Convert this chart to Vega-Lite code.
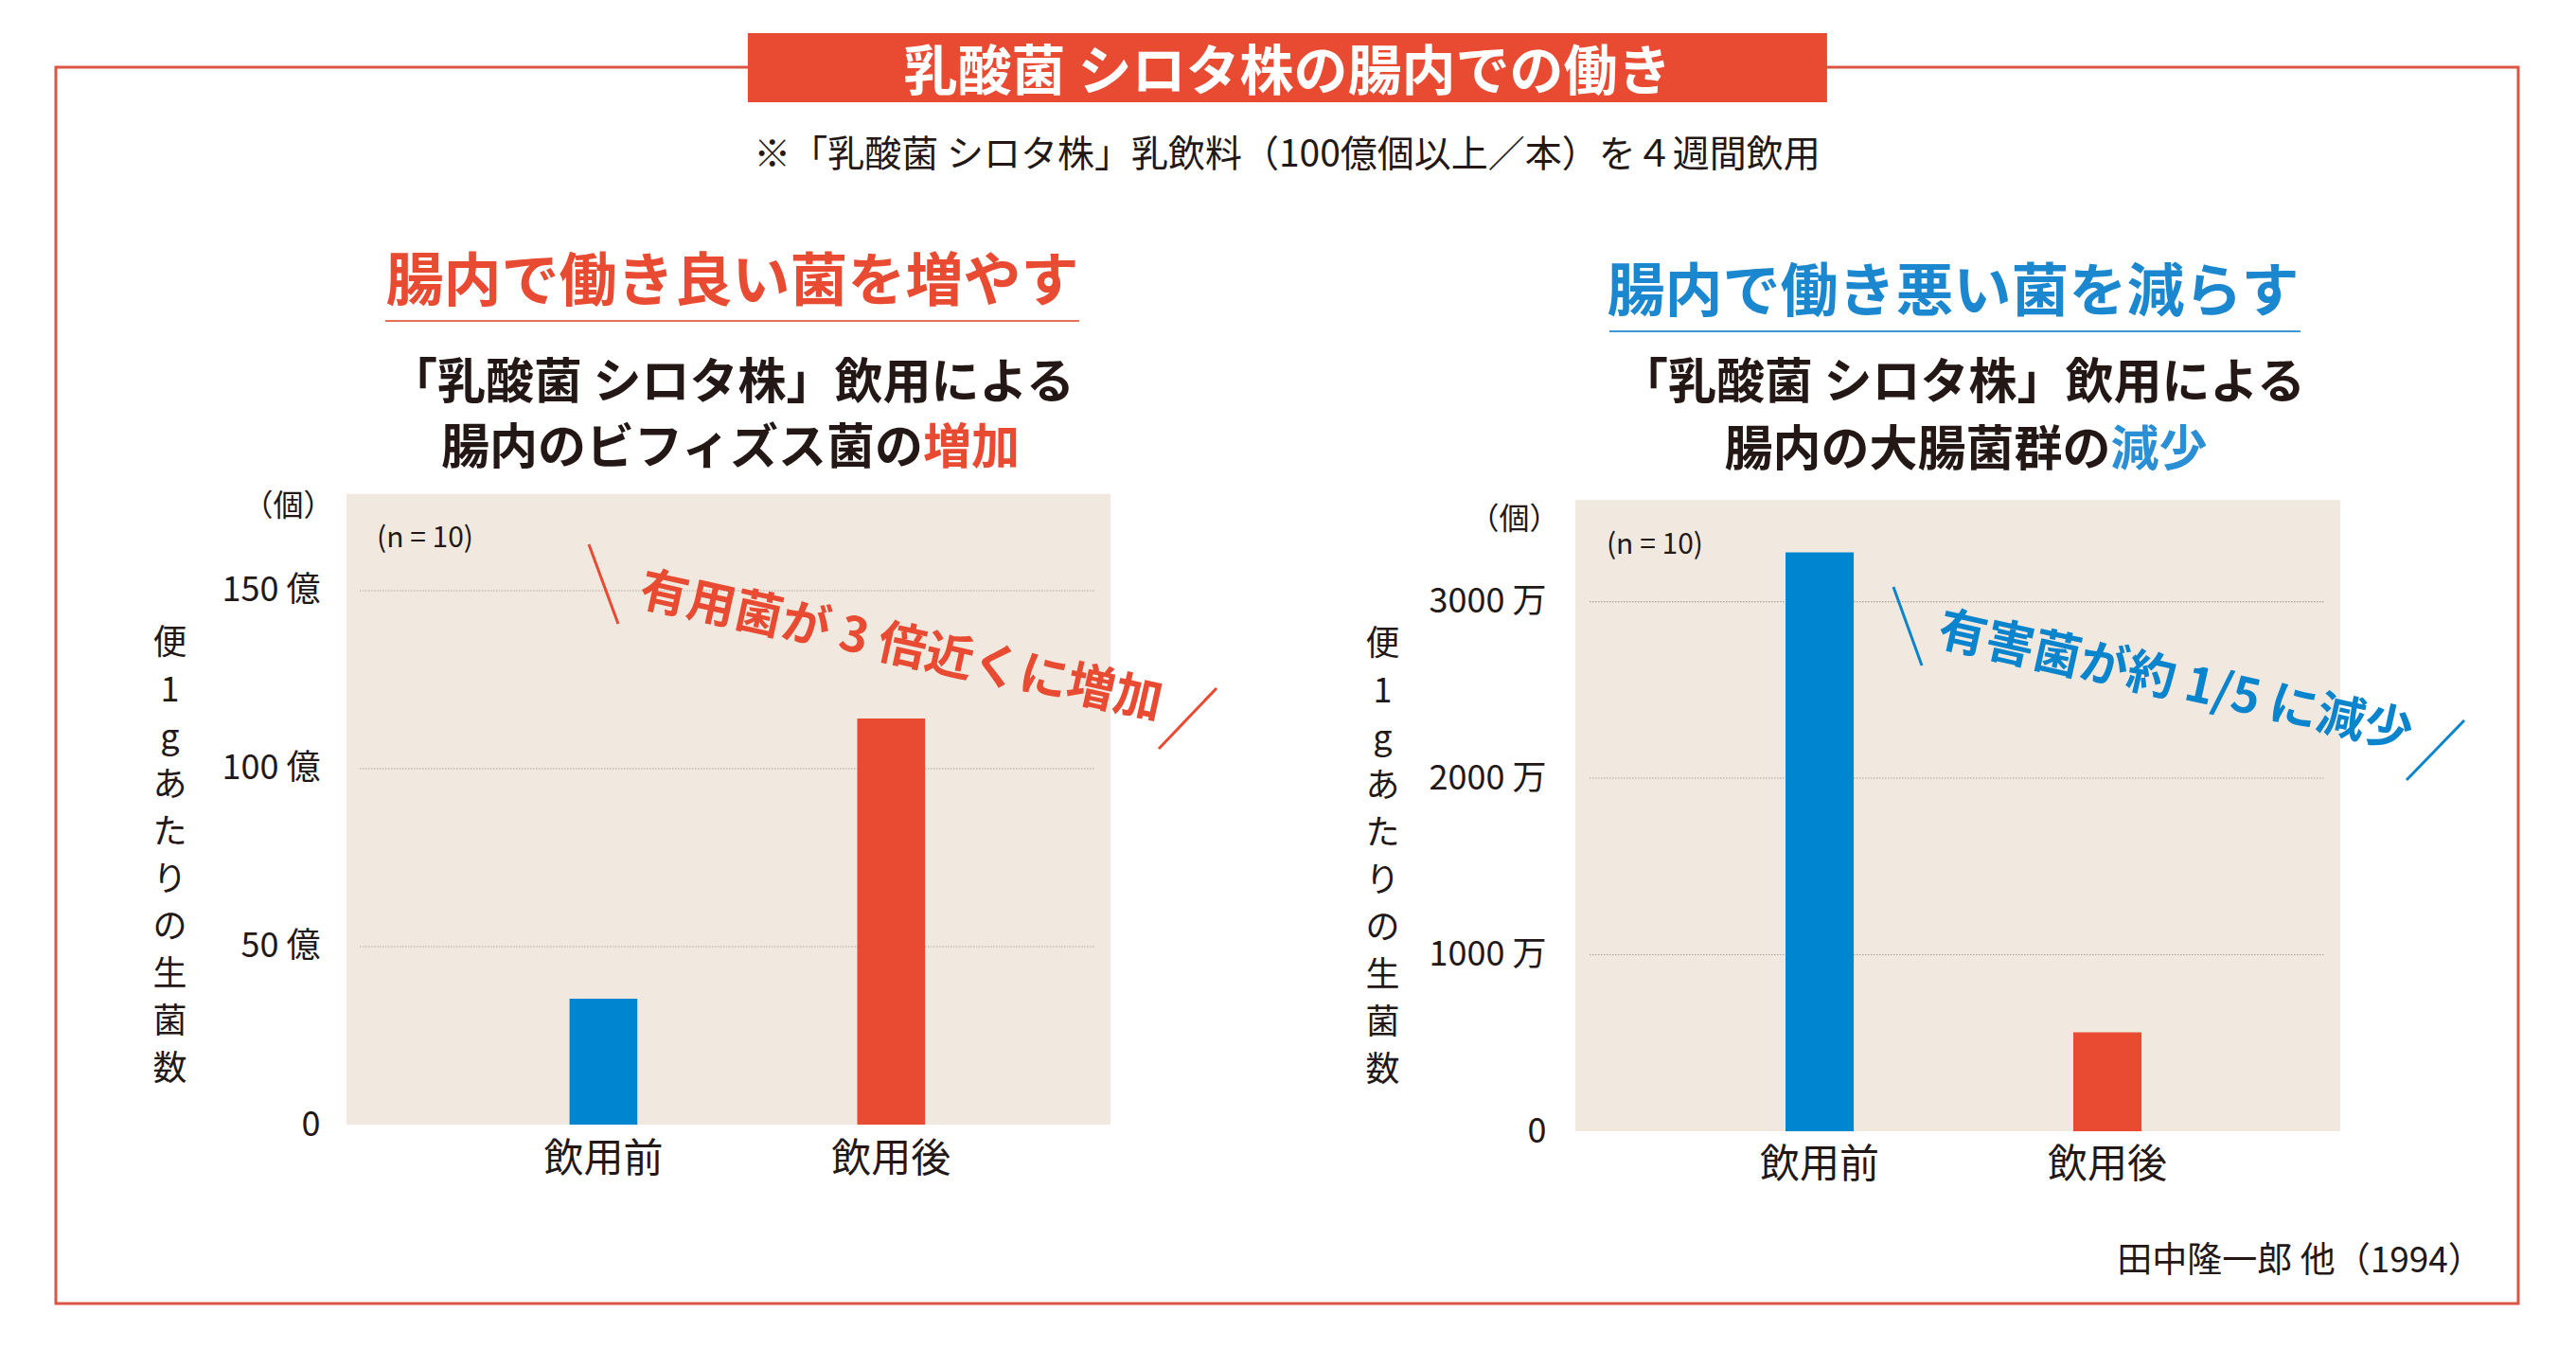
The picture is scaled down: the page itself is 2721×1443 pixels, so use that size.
{
  "$schema": "https://vega.github.io/schema/vega-lite/v6.json",
  "width": 2601,
  "height": 1306,
  "autosize": {"type": "none"},
  "padding": {"left": 59, "top": 71, "right": 61, "bottom": 66},
  "background": "white",
  "view": {"stroke": "#db5642", "strokeWidth": 3, "fill": "white"},
  "config": {
    "font": "Noto Sans CJK JP",
    "axis": {"grid": false, "domain": false, "ticks": false, "tickSize": 0}
  },
  "datasets": {
    "bif": [{"時期": "飲用前", "生菌数": 35.4}, {"時期": "飲用後", "生菌数": 114.1}],
    "coli": [{"時期": "飲用前", "生菌数": 3279}, {"時期": "飲用後", "生菌数": 561}],
    "gridL": [{"v": 50}, {"v": 100}, {"v": 150}],
    "gridR": [{"v": 1000}, {"v": 2000}, {"v": 3000}]
  },
  "layer": [
    {
      "data": {"values": [{"t": "乳酸菌 シロタ株の腸内での働き"}]},
      "mark": {"type": "rect", "color": "#e84a32"},
      "encoding": {
        "x": {"datum": 0.281, "type": "quantitative", "scale": {"domain": [0, 1], "range": [0, 2601], "nice": false, "zero": false}, "axis": null},
        "x2": {"datum": 0.7193},
        "y": {"datum": -0.0276, "type": "quantitative", "scale": {"domain": [0, 1], "range": [0, 1306], "nice": false, "zero": false}, "axis": null},
        "y2": {"datum": 0.0283}
      }
    },
    {
      "data": {"values": [{"t": "乳酸菌 シロタ株の腸内での働き"}]},
      "mark": {"type": "text", "font": "Noto Sans CJK JP", "fontSize": 57, "fontWeight": "bold", "color": "white", "align": "center", "baseline": "middle"},
      "encoding": {
        "x": {"datum": 0.5002, "type": "quantitative", "scale": {"domain": [0, 1], "range": [0, 2601], "nice": false, "zero": false}, "axis": null},
        "y": {"datum": 0.0052, "type": "quantitative", "scale": {"domain": [0, 1], "range": [0, 1306], "nice": false, "zero": false}, "axis": null},
        "text": {"field": "t"}
      }
    },
    {
      "data": {"values": [{"t": "※「乳酸菌 シロタ株」乳飲料（100億個以上／本）を４週間飲用"}]},
      "mark": {"type": "text", "font": "Noto Sans CJK JP", "fontSize": 39, "color": "#231815", "align": "center", "baseline": "middle"},
      "encoding": {
        "x": {"datum": 0.5, "type": "quantitative", "scale": {"domain": [0, 1], "range": [0, 2601], "nice": false, "zero": false}, "axis": null},
        "y": {"datum": 0.0709, "type": "quantitative", "scale": {"domain": [0, 1], "range": [0, 1306], "nice": false, "zero": false}, "axis": null},
        "text": {"field": "t"}
      }
    },
    {
      "data": {"values": [{"t": "田中隆一郎 他（1994）"}]},
      "mark": {"type": "text", "font": "Noto Sans CJK JP", "fontSize": 37, "color": "#231815", "align": "right", "baseline": "middle"},
      "encoding": {
        "x": {"datum": 0.9857, "type": "quantitative", "scale": {"domain": [0, 1], "range": [0, 2601], "nice": false, "zero": false}, "axis": null},
        "y": {"datum": 0.9662, "type": "quantitative", "scale": {"domain": [0, 1], "range": [0, 1306], "nice": false, "zero": false}, "axis": null},
        "text": {"field": "t"}
      }
    },
    {
      "data": {"values": [{"t": "bg"}]},
      "mark": {"type": "rect", "color": "#f1e9e0"},
      "encoding": {
        "x": {"datum": 0, "type": "quantitative", "scale": {"domain": [0, 1], "range": [307, 1114], "nice": false, "zero": false}, "axis": null},
        "x2": {"datum": 1},
        "y": {"datum": 0, "type": "quantitative", "scale": {"domain": [0, 177.2], "range": [1117, 450.7], "nice": false, "zero": false}, "axis": null},
        "y2": {"datum": 177.2}
      }
    },
    {
      "data": {"name": "gridL"},
      "mark": {"type": "rule", "color": "#a9a29b", "strokeWidth": 1.2, "strokeDash": [1.5, 1.5]},
      "encoding": {
        "x": {"datum": 0.0173, "type": "quantitative", "scale": {"domain": [0, 1], "range": [307, 1114], "nice": false, "zero": false}, "axis": null},
        "x2": {"datum": 0.98},
        "y": {"field": "v", "type": "quantitative", "scale": {"domain": [0, 177.2], "range": [1117, 450.7], "nice": false, "zero": false}, "axis": null}
      }
    },
    {
      "data": {"values": [{"t": "(n = 10)"}]},
      "mark": {"type": "text", "font": "Liberation Sans Narrow, Noto Sans CJK JP", "fontSize": 30, "color": "#231815", "align": "left", "baseline": "middle"},
      "encoding": {
        "x": {"datum": 0.0397, "type": "quantitative", "scale": {"domain": [0, 1], "range": [307, 1114], "nice": false, "zero": false}, "axis": null},
        "y": {"datum": 164.6, "type": "quantitative", "scale": {"domain": [0, 177.2], "range": [1117, 450.7], "nice": false, "zero": false}, "axis": null},
        "text": {"field": "t"}
      }
    },
    {
      "data": {"values": [{"t": "腸内で働き良い菌を増やす"}]},
      "mark": {"type": "text", "font": "Noto Sans CJK JP", "fontSize": 61, "fontWeight": "bold", "color": "#e84a32", "align": "center", "baseline": "middle"},
      "encoding": {
        "x": {"datum": 0.505, "type": "quantitative", "scale": {"domain": [0, 1], "range": [307, 1114], "nice": false, "zero": false}, "axis": null},
        "y": {"datum": 236.1, "type": "quantitative", "scale": {"domain": [0, 177.2], "range": [1117, 450.7], "nice": false, "zero": false}, "axis": null},
        "text": {"field": "t"}
      }
    },
    {
      "data": {"values": [{"t": "underline"}]},
      "mark": {"type": "rule", "color": "#e4705c", "strokeWidth": 2},
      "encoding": {
        "x": {"datum": 0.0508, "type": "quantitative", "scale": {"domain": [0, 1], "range": [307, 1114], "nice": false, "zero": false}, "axis": null},
        "x2": {"datum": 0.959},
        "y": {"datum": 225.8, "type": "quantitative", "scale": {"domain": [0, 177.2], "range": [1117, 450.7], "nice": false, "zero": false}, "axis": null}
      }
    },
    {
      "data": {"values": [{"t": "「乳酸菌 シロタ株」飲用による"}]},
      "mark": {"type": "text", "font": "Noto Sans CJK JP", "fontSize": 51, "fontWeight": "bold", "color": "#231815", "align": "center", "baseline": "middle"},
      "encoding": {
        "x": {"datum": 0.5043, "type": "quantitative", "scale": {"domain": [0, 1], "range": [307, 1114], "nice": false, "zero": false}, "axis": null},
        "y": {"datum": 208.1, "type": "quantitative", "scale": {"domain": [0, 177.2], "range": [1117, 450.7], "nice": false, "zero": false}, "axis": null},
        "text": {"field": "t"}
      }
    },
    {
      "data": {"values": [{"t": "腸内のビフィズス菌の"}]},
      "mark": {"type": "text", "font": "Noto Sans CJK JP", "fontSize": 51, "fontWeight": "bold", "color": "#231815", "align": "right", "baseline": "middle"},
      "encoding": {
        "x": {"datum": 0.7546, "type": "quantitative", "scale": {"domain": [0, 1], "range": [307, 1114], "nice": false, "zero": false}, "axis": null},
        "y": {"datum": 189.7, "type": "quantitative", "scale": {"domain": [0, 177.2], "range": [1117, 450.7], "nice": false, "zero": false}, "axis": null},
        "text": {"field": "t"}
      }
    },
    {
      "data": {"values": [{"t": "増加"}]},
      "mark": {"type": "text", "font": "Noto Sans CJK JP", "fontSize": 51, "fontWeight": "bold", "color": "#e84a32", "align": "left", "baseline": "middle"},
      "encoding": {
        "x": {"datum": 0.7546, "type": "quantitative", "scale": {"domain": [0, 1], "range": [307, 1114], "nice": false, "zero": false}, "axis": null},
        "y": {"datum": 189.7, "type": "quantitative", "scale": {"domain": [0, 177.2], "range": [1117, 450.7], "nice": false, "zero": false}, "axis": null},
        "text": {"field": "t"}
      }
    },
    {
      "data": {"values": [{"t": "有用菌が 3 倍近くに増加"}]},
      "mark": {"type": "text", "font": "Noto Sans CJK JP", "fontSize": 51, "fontWeight": "bold", "color": "#e84a32", "align": "center", "baseline": "middle", "angle": 12.4},
      "encoding": {
        "x": {"datum": 0.7255, "type": "quantitative", "scale": {"domain": [0, 1], "range": [307, 1114], "nice": false, "zero": false}, "axis": null},
        "y": {"datum": 133.9, "type": "quantitative", "scale": {"domain": [0, 177.2], "range": [1117, 450.7], "nice": false, "zero": false}, "axis": null},
        "text": {"field": "t"}
      }
    },
    {
      "data": {"values": [{"t": "slash"}]},
      "mark": {"type": "rule", "color": "#e84a32", "strokeWidth": 3},
      "encoding": {
        "x": {"datum": 0.3172, "type": "quantitative", "scale": {"domain": [0, 1], "range": [307, 1114], "nice": false, "zero": false}, "axis": null},
        "x2": {"datum": 0.3556},
        "y": {"datum": 163.0, "type": "quantitative", "scale": {"domain": [0, 177.2], "range": [1117, 450.7], "nice": false, "zero": false}, "axis": null},
        "y2": {"datum": 140.7}
      }
    },
    {
      "data": {"values": [{"t": "slash"}]},
      "mark": {"type": "rule", "color": "#e84a32", "strokeWidth": 3},
      "encoding": {
        "x": {"datum": 1.1388, "type": "quantitative", "scale": {"domain": [0, 1], "range": [307, 1114], "nice": false, "zero": false}, "axis": null},
        "x2": {"datum": 1.0632},
        "y": {"datum": 122.6, "type": "quantitative", "scale": {"domain": [0, 177.2], "range": [1117, 450.7], "nice": false, "zero": false}, "axis": null},
        "y2": {"datum": 105.6}
      }
    },
    {
      "data": {"name": "bif"},
      "mark": {"type": "bar"},
      "encoding": {
        "x": {
          "field": "時期", "type": "nominal", "sort": ["飲用前", "飲用後"],
          "scale": {"range": [307, 1114], "paddingInner": 0.7644, "paddingOuter": 0.71, "align": 0.546},
          "axis": {"orient": "bottom", "offset": -189, "labelPadding": 16, "labelFontSize": 42, "labelFont": "Noto Sans CJK JP", "labelColor": "#231815", "labelAngle": 0, "title": null}
        },
        "y": {
          "field": "生菌数", "type": "quantitative",
          "scale": {"domain": [0, 177.2], "range": [1117, 450.7], "nice": false, "zero": false},
          "axis": {
            "orient": "left", "offset": -279, "values": [0, 50, 100, 150, 173.9],
            "labelExpr": "datum.value > 160 ? '（個）' : (datum.value == 0 ? '0' : datum.value + ' 億')",
            "labelPadding": {"condition": {"test": "datum.value > 160", "value": -14}, "value": 0},
            "labelFontSize": {"condition": {"test": "datum.value > 160", "value": 32}, "value": 36},
            "labelFont": "Liberation Sans Narrow, Noto Sans CJK JP",
            "labelColor": "#231815", "labelOverlap": false, "labelBound": false, "labelFlush": false,
            "title": ["便", "1", "g", "あ", "た", "り", "の", "生", "菌", "数"],
            "titleAngle": 0, "titleX": -159, "titleY": 591, "titleAlign": "center", "titleBaseline": "top",
            "titleFontSize": 36, "titleLineHeight": 50, "titleFontWeight": "normal", "titleColor": "#231815", "titleFont": "Noto Sans CJK JP"
          }
        },
        "color": {"field": "時期", "type": "nominal", "scale": {"domain": ["飲用前", "飲用後"], "range": ["#0086d1", "#e84a32"]}, "legend": null}
      }
    },
    {
      "data": {"values": [{"t": "bg"}]},
      "mark": {"type": "rect", "color": "#f1e9e0"},
      "encoding": {
        "x": {"datum": 0, "type": "quantitative", "scale": {"domain": [0, 1], "range": [1605, 2413], "nice": false, "zero": false}, "axis": null},
        "x2": {"datum": 1},
        "y": {"datum": 0, "type": "quantitative", "scale": {"domain": [0, 3575], "range": [1124, 457.3], "nice": false, "zero": false}, "axis": null},
        "y2": {"datum": 3575}
      }
    },
    {
      "data": {"name": "gridR"},
      "mark": {"type": "rule", "color": "#a9a29b", "strokeWidth": 1.2, "strokeDash": [1.5, 1.5]},
      "encoding": {
        "x": {"datum": 0.0186, "type": "quantitative", "scale": {"domain": [0, 1], "range": [1605, 2413], "nice": false, "zero": false}, "axis": null},
        "x2": {"datum": 0.979},
        "y": {"field": "v", "type": "quantitative", "scale": {"domain": [0, 3575], "range": [1124, 457.3], "nice": false, "zero": false}, "axis": null}
      }
    },
    {
      "data": {"values": [{"t": "(n = 10)"}]},
      "mark": {"type": "text", "font": "Liberation Sans Narrow, Noto Sans CJK JP", "fontSize": 30, "color": "#231815", "align": "left", "baseline": "middle"},
      "encoding": {
        "x": {"datum": 0.0408, "type": "quantitative", "scale": {"domain": [0, 1], "range": [1605, 2413], "nice": false, "zero": false}, "axis": null},
        "y": {"datum": 3319, "type": "quantitative", "scale": {"domain": [0, 3575], "range": [1124, 457.3], "nice": false, "zero": false}, "axis": null},
        "text": {"field": "t"}
      }
    },
    {
      "data": {"values": [{"t": "腸内で働き悪い菌を減らす"}]},
      "mark": {"type": "text", "font": "Noto Sans CJK JP", "fontSize": 61, "fontWeight": "bold", "color": "#1b87cf", "align": "center", "baseline": "middle"},
      "encoding": {
        "x": {"datum": 0.4938, "type": "quantitative", "scale": {"domain": [0, 1], "range": [1605, 2413], "nice": false, "zero": false}, "axis": null},
        "y": {"datum": 4740.5, "type": "quantitative", "scale": {"domain": [0, 3575], "range": [1124, 457.3], "nice": false, "zero": false}, "axis": null},
        "text": {"field": "t"}
      }
    },
    {
      "data": {"values": [{"t": "underline"}]},
      "mark": {"type": "rule", "color": "#3a98d6", "strokeWidth": 2},
      "encoding": {
        "x": {"datum": 0.0446, "type": "quantitative", "scale": {"domain": [0, 1], "range": [1605, 2413], "nice": false, "zero": false}, "axis": null},
        "x2": {"datum": 0.948},
        "y": {"datum": 4531, "type": "quantitative", "scale": {"domain": [0, 3575], "range": [1124, 457.3], "nice": false, "zero": false}, "axis": null}
      }
    },
    {
      "data": {"values": [{"t": "「乳酸菌 シロタ株」飲用による"}]},
      "mark": {"type": "text", "font": "Noto Sans CJK JP", "fontSize": 51, "fontWeight": "bold", "color": "#231815", "align": "center", "baseline": "middle"},
      "encoding": {
        "x": {"datum": 0.5062, "type": "quantitative", "scale": {"domain": [0, 1], "range": [1605, 2413], "nice": false, "zero": false}, "axis": null},
        "y": {"datum": 4232.7, "type": "quantitative", "scale": {"domain": [0, 3575], "range": [1124, 457.3], "nice": false, "zero": false}, "axis": null},
        "text": {"field": "t"}
      }
    },
    {
      "data": {"values": [{"t": "腸内の大腸菌群の"}]},
      "mark": {"type": "text", "font": "Noto Sans CJK JP", "fontSize": 51, "fontWeight": "bold", "color": "#231815", "align": "right", "baseline": "middle"},
      "encoding": {
        "x": {"datum": 0.7, "type": "quantitative", "scale": {"domain": [0, 1], "range": [1605, 2413], "nice": false, "zero": false}, "axis": null},
        "y": {"datum": 3852, "type": "quantitative", "scale": {"domain": [0, 3575], "range": [1124, 457.3], "nice": false, "zero": false}, "axis": null},
        "text": {"field": "t"}
      }
    },
    {
      "data": {"values": [{"t": "減少"}]},
      "mark": {"type": "text", "font": "Noto Sans CJK JP", "fontSize": 51, "fontWeight": "bold", "color": "#2a8fd4", "align": "left", "baseline": "middle"},
      "encoding": {
        "x": {"datum": 0.7, "type": "quantitative", "scale": {"domain": [0, 1], "range": [1605, 2413], "nice": false, "zero": false}, "axis": null},
        "y": {"datum": 3852, "type": "quantitative", "scale": {"domain": [0, 3575], "range": [1124, 457.3], "nice": false, "zero": false}, "axis": null},
        "text": {"field": "t"}
      }
    },
    {
      "data": {"values": [{"t": "有害菌が約 1/5 に減少"}]},
      "mark": {"type": "text", "font": "Noto Sans CJK JP", "fontSize": 51, "fontWeight": "bold", "color": "#0a84cc", "align": "center", "baseline": "middle", "angle": 12.5},
      "encoding": {
        "x": {"datum": 0.784, "type": "quantitative", "scale": {"domain": [0, 1], "range": [1605, 2413], "nice": false, "zero": false}, "axis": null},
        "y": {"datum": 2539, "type": "quantitative", "scale": {"domain": [0, 3575], "range": [1124, 457.3], "nice": false, "zero": false}, "axis": null},
        "text": {"field": "t"}
      }
    },
    {
      "data": {"values": [{"t": "slash"}]},
      "mark": {"type": "rule", "color": "#0a84cc", "strokeWidth": 3},
      "encoding": {
        "x": {"datum": 0.4158, "type": "quantitative", "scale": {"domain": [0, 1], "range": [1605, 2413], "nice": false, "zero": false}, "axis": null},
        "x2": {"datum": 0.453},
        "y": {"datum": 3083, "type": "quantitative", "scale": {"domain": [0, 3575], "range": [1124, 457.3], "nice": false, "zero": false}, "axis": null},
        "y2": {"datum": 2638}
      }
    },
    {
      "data": {"values": [{"t": "slash"}]},
      "mark": {"type": "rule", "color": "#0a84cc", "strokeWidth": 3},
      "encoding": {
        "x": {"datum": 1.1621, "type": "quantitative", "scale": {"domain": [0, 1], "range": [1605, 2413], "nice": false, "zero": false}, "axis": null},
        "x2": {"datum": 1.0866},
        "y": {"datum": 2327, "type": "quantitative", "scale": {"domain": [0, 3575], "range": [1124, 457.3], "nice": false, "zero": false}, "axis": null},
        "y2": {"datum": 1989}
      }
    },
    {
      "data": {"name": "coli"},
      "mark": {"type": "bar"},
      "encoding": {
        "x": {
          "field": "時期", "type": "nominal", "sort": ["飲用前", "飲用後"],
          "scale": {"range": [1605, 2413], "paddingInner": 0.763, "paddingOuter": 0.7105, "align": 0.514},
          "axis": {"orient": "bottom", "offset": -182, "labelPadding": 15, "labelFontSize": 42, "labelFont": "Noto Sans CJK JP", "labelColor": "#231815", "labelAngle": 0, "title": null}
        },
        "y": {
          "field": "生菌数", "type": "quantitative",
          "scale": {"domain": [0, 3575], "range": [1124, 457.3], "nice": false, "zero": false},
          "axis": {
            "orient": "left", "offset": -1574, "values": [0, 1000, 2000, 3000, 3466],
            "labelExpr": "datum.value > 3300 ? '（個）' : (datum.value == 0 ? '0' : datum.value + ' 万')",
            "labelPadding": {"condition": {"test": "datum.value > 3300", "value": -14}, "value": 0},
            "labelFontSize": {"condition": {"test": "datum.value > 3300", "value": 32}, "value": 36},
            "labelFont": "Liberation Sans Narrow, Noto Sans CJK JP",
            "labelColor": "#231815", "labelOverlap": false, "labelBound": false, "labelFlush": false,
            "title": ["便", "1", "g", "あ", "た", "り", "の", "生", "菌", "数"],
            "titleAngle": 0, "titleX": -173, "titleY": 592, "titleAlign": "center", "titleBaseline": "top",
            "titleFontSize": 36, "titleLineHeight": 50, "titleFontWeight": "normal", "titleColor": "#231815", "titleFont": "Noto Sans CJK JP"
          }
        },
        "color": {"field": "時期", "type": "nominal", "scale": {"domain": ["飲用前", "飲用後"], "range": ["#0086d1", "#e84a32"]}, "legend": null}
      }
    }
  ],
  "resolve": {
    "scale": {"x": "independent", "y": "independent"},
    "axis": {"x": "independent", "y": "independent"}
  }
}
